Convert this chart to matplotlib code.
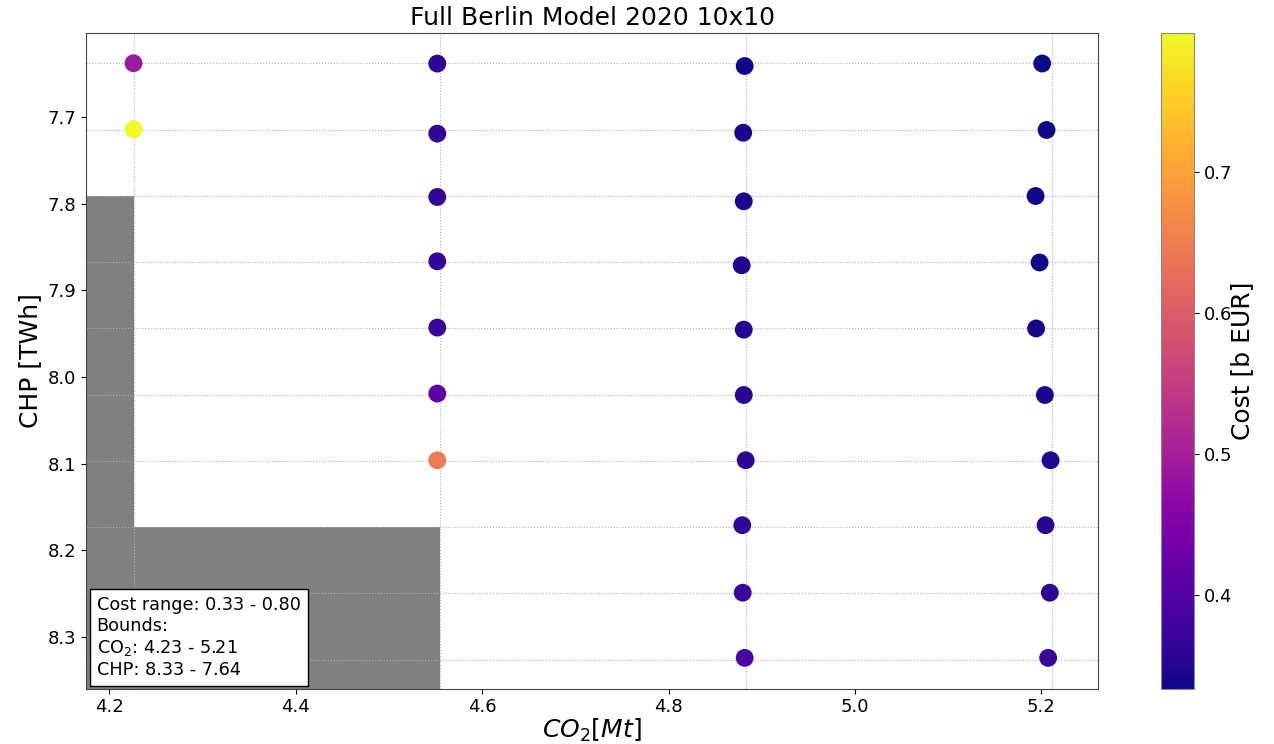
import matplotlib.pyplot as plt
import numpy as np

# target grid of the 10x10 run (only the columns that were solved)
grid_co2 = [4.226, 4.5545, 4.883, 5.2115]
grid_chp = [7.638, 7.7145, 7.791, 7.8674, 7.9438, 8.0203, 8.0967, 8.1732, 8.2496, 8.326]

# number of feasible CHP rows per CO2 column, the rest is infeasible
n_feasible = [2, 7, 10, 10]

# solved points: achieved CO2, achieved CHP and total cost
co2_1 = [4.226, 4.226]
chp_1 = [7.638, 7.7142]
cost_1 = [0.492, 0.798]

co2_2 = [4.5519, 4.5519, 4.5519, 4.5519, 4.5519, 4.5519, 4.5519]
chp_2 = [7.6384, 7.7192, 7.7923, 7.8665, 7.943, 8.0191, 8.0961]
cost_2 = [0.362, 0.364, 0.366, 0.368, 0.370, 0.412, 0.645]

co2_3 = [4.8817, 4.8801, 4.8807, 4.8785, 4.8807, 4.8807, 4.8828, 4.8791, 4.8796, 4.8817]
chp_3 = [7.6412, 7.7182, 7.7973, 7.8711, 7.9454, 8.0208, 8.0961, 8.171, 8.2489, 8.3241]
cost_3 = [0.337, 0.343, 0.345, 0.347, 0.351, 0.355, 0.360, 0.366, 0.375, 0.390]

co2_4 = [5.2009, 5.2056, 5.1938, 5.1981, 5.1944, 5.2038, 5.2099, 5.2045, 5.2091, 5.2073]
chp_4 = [7.6383, 7.715, 7.7912, 7.8679, 7.944, 8.0208, 8.0961, 8.171, 8.2489, 8.3241]
cost_4 = [0.334, 0.335, 0.336, 0.337, 0.340, 0.343, 0.350, 0.355, 0.362, 0.372]

co2 = co2_1 + co2_2 + co2_3 + co2_4
chp = chp_1 + chp_2 + chp_3 + chp_4
cost = cost_1 + cost_2 + cost_3 + cost_4

fig = plt.figure(figsize=(12.74, 7.44), dpi=100)
ax = fig.add_axes([0.0675, 0.0743, 0.7945, 0.881])
cax = fig.add_axes([0.911, 0.0743, 0.026, 0.881])

xlim = (4.175, 5.261)
ylim = (8.3597, 7.6034)
ax.set_xlim(xlim)
ax.set_ylim(ylim)

# infeasible region
for i, n in enumerate(n_feasible):
    if n >= len(grid_chp):
        continue
    x_left = xlim[0] if i == 0 else grid_co2[i - 1]
    ax.fill_between([x_left, grid_co2[i]], grid_chp[n], ylim[0],
                    color='gray', linewidth=0, zorder=1)

sc = ax.scatter(co2, chp, c=cost, cmap='plasma', s=165, linewidths=0, zorder=3)

ax.set_xticks(grid_co2, minor=True)
ax.set_yticks(grid_chp, minor=True)
ax.grid(which='minor', color='#b0b0b0', linestyle=':', linewidth=0.8, zorder=2)
ax.tick_params(which='minor', length=0)
ax.tick_params(which='major', labelsize=13)
for sp in ax.spines.values():
    sp.set_color('#444444')

ax.set_title('Full Berlin Model 2020 10x10', fontsize=18)
ax.set_xlabel(r'$CO_2 [Mt]$', fontsize=18, labelpad=0)
ax.set_ylabel('CHP [TWh]', fontsize=18)

info = ('Cost range: {:.2f} - {:.2f}\nBounds:\nCO$_2$: {:.2f} - {:.2f}\nCHP: {:.2f} - {:.2f}'
        .format(min(cost), max(cost), grid_co2[0], grid_co2[-1], grid_chp[-1], grid_chp[0]))
ax.text(0.0106, 0.0153, info, transform=ax.transAxes, fontsize=12.7, va='bottom', ha='left',
        zorder=5, bbox=dict(boxstyle='square,pad=0.4', facecolor='white', edgecolor='black'))

cb = fig.colorbar(sc, cax=cax)
cb.set_label('Cost [b EUR]', fontsize=18, labelpad=-1)
cb.ax.tick_params(labelsize=13)
cb.outline.set_edgecolor('#888888')

fig.savefig('out.png', dpi=100)
